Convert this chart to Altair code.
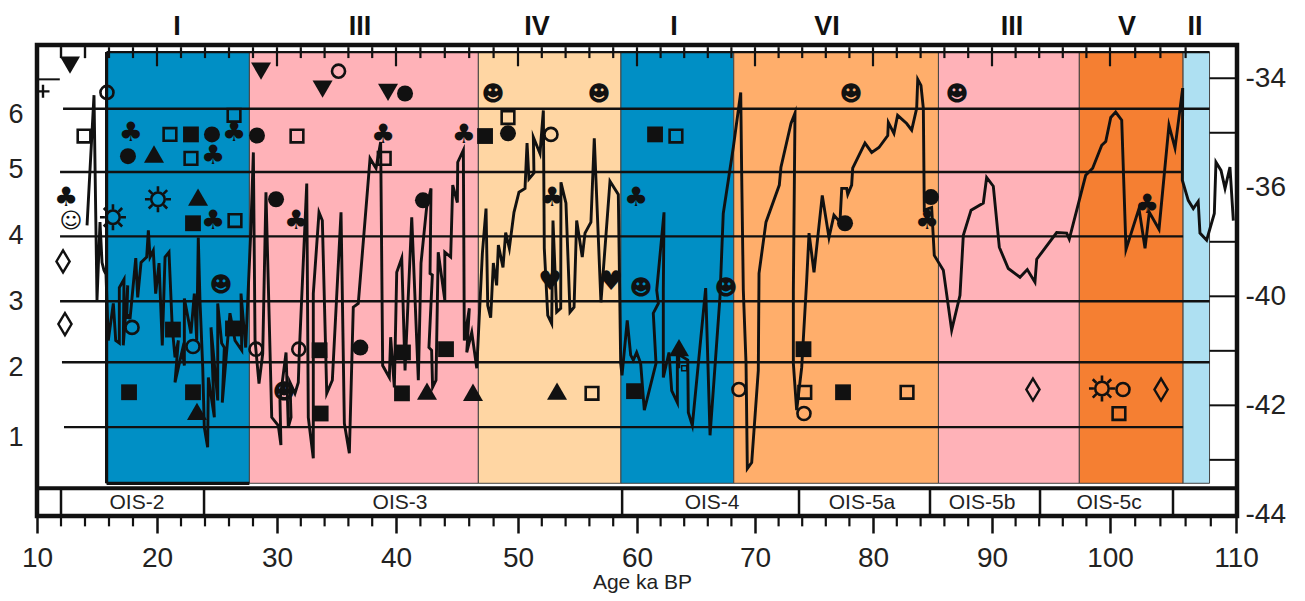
import altair as alt
import pandas as pd

# ---- isotope curve, (age ka BP, per mil on the evenly ticked right axis), split by stretch
curve_early = [(14.17,-36.70),(14.75,-34.31),(15.0,-38.07),(15.25,-36.64),(15.42,-37.38),(15.58,-37.52),(15.75,-37.60),
 (15.94,-38.81),(16.36,-38.13),(16.56,-38.81),(16.86,-38.86),(16.86,-37.84),(17.25,-37.69),(17.19,-38.90),(17.56,-37.80),
 (17.48,-38.39),(17.69,-38.35),(17.75,-38.42),(18.23,-37.30),(18.39,-38.02),(18.67,-37.38),(19.14,-37.28),(19.28,-36.79),
 (19.42,-37.28),(19.69,-37.16),(19.89,-37.95),(20.17,-37.39),(20.44,-38.90),(20.67,-37.28),(21.0,-37.19),(21.27,-38.57),
 (21.5,-39.12),(21.78,-38.81),(21.5,-39.58),(22.11,-38.99),(22.28,-39.27),(22.28,-38.04),(22.83,-38.68),(23.11,-37.95),
 (23.31,-38.81),(23.44,-36.92),(23.58,-38.07),(23.81,-39.30),(23.94,-40.40),(24.22,-40.77),(24.28,-39.49),(24.78,-40.22),
 (24.5,-38.57),(25.06,-39.91),(25.06,-38.13),(25.39,-38.86),(25.61,-38.94),(25.44,-39.95),(26.08,-38.31),(26.5,-38.81),
 (27.06,-38.99),(27.0,-37.95),(27.39,-38.94),(27.81,-36.84)]
curve_ois3 = [(28.03,-35.36),(28.17,-38.81),(28.5,-39.60),(28.81,-39.05),(29.08,-36.09),(29.56,-40.22),(30.11,-40.37),
 (30.33,-40.73),(30.25,-39.91),(30.76,-39.03),(30.95,-40.40),(31.18,-40.22),(31.09,-39.58),(31.51,-39.78),(31.79,-39.58),
 (31.87,-39.05),(32.5,-35.93),(32.63,-40.22),(33.05,-40.97),(33.05,-37.95),(33.53,-36.46),(33.81,-36.61),(34.18,-39.78),
 (34.65,-39.54),(35.38,-36.46),(35.66,-40.33),(36.08,-40.88),(36.41,-38.20),(36.83,-38.13),(37.82,-35.47),(38.32,-35.65),
 (38.71,-35.17),(38.88,-39.27),(39.44,-39.49),(39.55,-38.75),(39.86,-39.67),(40.06,-37.56),(40.47,-37.30),(40.74,-39.36),
 (41.29,-36.55),(41.83,-39.54),(42.05,-37.39),(42.51,-36.37),(42.87,-36.02),(42.79,-37.58),(42.98,-37.61),(42.7,-38.94),
 (42.92,-38.99),(43.0,-39.67),(43.28,-39.54),(43.46,-37.19),(44.0,-38.07),(44.0,-37.19),(44.48,-37.28),(44.65,-35.96),
 (45.03,-36.28),(45.06,-35.54),(45.52,-35.32),(45.6,-38.81),(46.01,-38.22),(45.8,-39.03),(46.21,-38.66),(46.62,-39.32)]
curve_mid = [(47.08,-37.21),(47.38,-36.39),(47.52,-38.17),(47.76,-38.39),(47.98,-37.39),(48.25,-37.80),(48.39,-37.06),
 (48.77,-37.47),(48.99,-36.83),(49.29,-37.12),(49.67,-36.46),(50.08,-36.09),(50.59,-36.02),(50.76,-35.19),(50.92,-35.85),
 (51.34,-35.74),(51.29,-35.08),(51.85,-35.38),(52.13,-34.59),(52.21,-37.12),(52.5,-38.35),(52.83,-38.50),(52.94,-36.61),
 (53.25,-38.29),(53.59,-38.22),(53.61,-35.91),(54.03,-36.29),(54.37,-38.29),(54.71,-38.20),(54.93,-36.61),(55.4,-37.28),
 (55.63,-36.84),(56.13,-36.64),(56.41,-35.10),(56.97,-38.11),(57.73,-35.89),(58.43,-36.13),(58.63,-39.23),(58.74,-39.45),
 (59.18,-38.44),(59.47,-39.08),(59.69,-39.17),(59.97,-39.03),(60.31,-39.23),(60.62,-40.09),(61.61,-39.23),(61.38,-38.31),
 (61.81,-38.13),(61.67,-37.89),(62.29,-36.46),(62.23,-37.89),(62.23,-39.49),(62.71,-39.03),(62.94,-39.73),(63.42,-39.95),
 (63.42,-39.05),(64.3,-39.17),(64.35,-40.13),(64.69,-40.37),(65.82,-37.85),(66.19,-40.55),(67.03,-38.02),(67.31,-36.48),
 (68.16,-35.27),(68.79,-34.26)]
curve_ois5 = [(68.87,-35.74),(69.01,-37.89),(69.24,-39.23),(69.35,-41.16),(69.72,-41.05),(70.28,-39.36),(70.34,-37.58),
 (70.93,-36.64),(72.06,-35.96),(72.2,-35.63),(73.05,-34.83),(73.39,-34.64),(73.25,-37.89),(73.25,-39.23),(73.53,-40.09),
 (73.96,-39.30),(74.38,-37.71),(74.58,-36.84),(75.0,-37.56),(75.7,-36.15),(76.27,-36.92),(76.69,-36.51),(77.2,-36.64),
 (77.35,-36.02),(77.77,-36.02),(77.86,-36.13),(78.19,-35.96),(78.28,-35.65),(79.32,-35.19),(79.89,-35.36),(80.5,-35.27),
 (81.24,-35.05),(81.29,-34.81),(81.76,-35.01),(82.07,-34.68),(82.83,-34.83),(83.25,-34.95),(83.67,-34.55),(83.76,-34.02),
 (84.03,-34.13),(84.23,-34.55),(84.31,-36.42),(84.93,-36.37),(85.15,-37.25),(85.91,-37.52),(86.61,-38.62),(87.31,-37.98),
 (87.59,-36.88),(88.24,-36.42),(89.27,-36.29),(89.55,-35.82),(90.11,-35.98),(90.62,-37.10),(91.38,-37.49),(92.37,-37.65),
 (92.99,-37.51),(93.64,-37.74),(93.79,-37.32),(95.48,-36.83),(96.33,-36.84),(96.55,-36.95),(97.94,-35.78),(98.53,-35.65),
 (99.3,-35.23),(99.64,-35.16),(100.06,-34.72),(100.45,-34.62),(100.93,-34.77),(101.27,-37.14),(102.3,-36.39),(102.78,-37.12),
 (103.12,-36.46),(103.89,-36.77),(104.68,-34.86),(105.16,-35.28),(105.77,-34.18),(105.74,-35.87),(106.21,-36.24),(106.61,-36.39),
 (107.0,-36.26),(107.14,-36.84),(107.67,-36.97),(108.28,-36.48),(108.41,-35.54),(108.81,-35.69),(109.13,-36.02),(109.52,-35.63),
 (109.79,-36.61)]

# ---- stadial bands
band_start = [15.8, 27.7, 46.75, 58.65, 68.2, 85.5, 97.4, 105.8]
band_end = [27.7, 46.75, 58.65, 68.2, 85.5, 97.4, 105.8, 107.9]
band_fill = ["#008FC5", "#FFB2B8", "#FFD6A3", "#008FC5", "#FFAE6B", "#FFB2B8", "#F57F32", "#AEE0F2"]
band_names = ["I", "III", "IV", "I", "VI", "III", "V", "II"]
band_name_age = [21.67, 36.97, 51.6, 63.14, 76.1, 91.7, 101.35, 106.75]

# ---- horizontal level lines
level_val = [-34.56, -35.72, -36.90, -38.09, -39.21, -40.40]
level_from = [12.17, 11.92, 11.92, 11.92, 12.08, 12.25]
level_to = [107.9, 105.8, 105.8, 107.9, 107.9, 105.8]
level_label = ["6", "5", "4", "3", "2", "1"]
level_label_val = [-34.68, -35.69, -36.90, -38.11, -39.32, -40.59]

# ---- OIS strip
ois_names = ["OIS-2", "OIS-3", "OIS-4", "OIS-5a", "OIS-5b", "OIS-5c"]
ois_age = [18.33, 40.33, 66.36, 79.07, 89.17, 99.92]
ois_div = [12.0, 23.92, 58.75, 73.73, 84.79, 94.07, 105.0]

# ---- symbols
sq_filled = [(22.83,-35.03),(23.0,-36.66),(17.67,-39.76),(23.0,-39.76),(21.33,-38.61),(26.33,-38.59),(33.58,-38.99),(33.67,-40.15),
 (40.57,-39.03),(44.1,-38.97),(40.49,-39.78),(47.3,-35.06),(61.53,-35.03),(59.75,-39.74),(74.11,-38.97),(77.46,-39.76)]
sq_open = [(13.92,-35.06),(21.08,-35.03),(26.42,-34.68),(31.68,-35.06),(22.83,-35.47),(26.5,-36.61),(39.01,-35.47),(49.18,-34.72),
 (56.22,-39.78),(63.3,-35.06),(74.22,-39.76),(82.86,-39.76),(100.71,-40.15)]
ci_filled = [(24.58,-35.03),(28.33,-35.05),(17.58,-35.43),(29.92,-36.22),(40.74,-34.28),(42.21,-36.24),(49.18,-35.01),(37.0,-38.94),
 (77.63,-36.66),(84.87,-36.18)]
ci_open = [(15.83,-34.26),(35.17,-33.87),(52.77,-35.03),(17.92,-38.57),(23.0,-38.92),(28.25,-38.97),(31.83,-38.97),(68.64,-39.71),
 (74.15,-40.15),(101.03,-39.71)]
tri_up = [(19.75,-35.39),(23.42,-36.18),(23.33,-40.11),(42.54,-39.74),(46.31,-39.76),(53.28,-39.74),(63.56,-38.94)]
tri_down = [(12.75,-33.76),(28.67,-33.87),(33.83,-34.20),(39.33,-34.26)]
clubs = [(17.83,-35.01),(26.42,-35.01),(24.67,-35.43),(12.42,-36.20),(24.67,-36.61),(31.6,-36.61),(38.92,-35.05),(45.57,-35.05),
 (52.86,-36.20),(59.92,-36.20),(84.54,-36.62),(102.94,-36.33)]
smile_open = [(12.83,-36.62)]
smile_filled = [(25.33,-37.80),(47.95,-34.28),(56.81,-34.28),(78.14,-34.29),(87.06,-34.28),(60.34,-37.84),(67.54,-37.84),(30.59,-39.76)]
suns = [(20.08,-36.22),(16.33,-36.55),(99.32,-39.69)]
diamonds = [(12.17,-37.36),(12.33,-38.51),(93.47,-39.71),(104.05,-39.71)]
hearts = [(52.69,-37.74),(57.82,-37.74)]
small_open = [(64.0,-39.32)]
plus_mark = [(10.5,-34.24)]

# ---- axes
tens = [10, 20, 30, 40, 50, 60, 70, 80, 90, 100, 110]
tens_pos = [0, 120, 240, 359, 481, 600, 718, 836, 955, 1073, 1199]
even_top = [a for a in range(12, 107, 2) if a % 10 != 0]
long_top = [20, 30, 40, 50, 60, 70, 80, 90, 100]
even_bottom = [a for a in range(12, 109, 2) if a % 10 != 0]
right_ticks = [-34, -35, -37, -38, -39, -40, -41]
right_labelled = [-34, -36, -38, -40, -42]

Y_DOM = [-42.03, -33.39]
xs = alt.Scale(domain=tens, range=tens_pos, nice=False, zero=False)
ys = alt.Scale(domain=Y_DOM, nice=False, zero=False)
X = alt.X("a:Q", scale=xs, axis=None)
Y = alt.Y("v:Q", scale=ys, axis=None)
INK = "#111111"
SANS = "Liberation Sans"
DEJA = "DejaVu Sans"
SUN = ("M0.52,0A0.52,0.52 0 1,1 -0.52,0A0.52,0.52 0 1,1 0.52,0Z"
       "M0.62,0L1,0M-0.62,0L-1,0M0,0.62L0,1M0,-0.62L0,-1"
       "M0.44,0.44L0.71,0.71M-0.44,0.44L-0.71,0.71M0.44,-0.44L0.71,-0.71M-0.44,-0.44L-0.71,-0.71")


def frame(points):
    return pd.DataFrame(points, columns=["a", "v"])


def sym(points, **kw):
    return alt.Chart(frame(points)).mark_point(**kw).encode(x=X, y=Y)


def glyph(points, char, size, dy=0, color=INK):
    df = frame(points)
    df["t"] = char
    return alt.Chart(df).mark_text(font=DEJA, fontSize=size, color=color, dy=dy, baseline="middle").encode(x=X, y=Y, text="t:N")


def vrules(ages, v1, v2, width, color=INK):
    df = pd.DataFrame({"a": ages, "v": v1, "v2": v2})
    return alt.Chart(df).mark_rule(color=color, strokeWidth=width).encode(x=X, y=Y, y2="v2:Q")


def hrules(vals, a1, a2, width, color=INK):
    df = pd.DataFrame({"a": a1, "a2": a2, "v": vals})
    return alt.Chart(df).mark_rule(color=color, strokeWidth=width).encode(x=X, x2="a2:Q", y=Y)


TOP, BOT = -33.52, -41.43
bands = pd.DataFrame({"a": band_start, "a2": band_end, "fill": band_fill, "v": TOP, "v2": BOT})
band_layer = alt.Chart(bands).mark_rect(stroke="#444444", strokeWidth=1).encode(
    x=X, x2="a2:Q", y=Y, y2="v2:Q", fill=alt.Fill("fill:N", scale=None))

curve = pd.DataFrame(curve_early + curve_ois3 + curve_mid + curve_ois5, columns=["a", "v"])
curve["i"] = range(len(curve))
curve_layer = alt.Chart(curve).mark_line(color=INK, strokeWidth=2.9, strokeJoin="miter", strokeMiterLimit=6).encode(
    x=X, y=Y, order="i:Q")

names = pd.DataFrame({"a": band_name_age, "t": band_names, "v": -33.06})
name_layer = alt.Chart(names).mark_text(font=SANS, fontSize=27, fontWeight="bold", color=INK, baseline="middle").encode(x=X, y=Y, text="t:N")

ois = pd.DataFrame({"a": ois_age, "t": ois_names, "v": -41.80})
ois_layer = alt.Chart(ois).mark_text(font=SANS, fontSize=21, color="#222222", baseline="middle").encode(x=X, y=Y, text="t:N")

left = pd.DataFrame({"t": level_label, "v": level_label_val})
left_layer = alt.Chart(left).mark_text(font=SANS, fontSize=27, color="#222222", baseline="middle", align="center").encode(
    x=alt.value(-21), y=Y, text="t:N")

axes_layer = alt.Chart(pd.DataFrame({"a": tens, "v": [-42.03] * len(tens)})).mark_point(opacity=0).encode(
    x=alt.X("a:Q", scale=xs, axis=alt.Axis(
        orient="bottom", values=tens, grid=False, domain=False, tickSize=17, tickWidth=2.5, tickColor=INK,
        labelFont=SANS, labelFontSize=28, labelColor="#222222", labelPadding=11, labelFlush=False, format="d",
        title="Age ka BP", titleFont=SANS, titleFontSize=21, titleFontWeight="normal", titleColor="#222222",
        titleX=605, titleY=72, titleAnchor="middle", titleBaseline="alphabetic")),
    y=alt.Y("v:Q", scale=ys, axis=alt.Axis(
        orient="right", values=right_labelled, grid=False, domain=False, ticks=False,
        labelFont=SANS, labelFontSize=28, labelColor="#222222", labelPadding=8, title=None,
        labelExpr="datum.value < -37 ? '-' + abs(datum.value - 2) : '-' + abs(datum.value)")),
)

layers = [
    band_layer,
    vrules([15.8], TOP, BOT, 3.2),
    hrules([BOT], [15.8], [27.7], 3.2),
    hrules([TOP], [15.8], [107.9], 2.2),
    hrules(level_val, level_from, level_to, 2.4),
    curve_layer,
    vrules(even_top + [12, 14], -33.43, -33.63, 2.2),
    vrules(long_top, -33.43, -33.78, 2.2),
    vrules(even_bottom, -42.03, -42.22, 2.2),
    hrules(right_ticks, [107.9] * len(right_ticks), [110] * len(right_ticks), 2),
    hrules([-34.02], [10.0], [11.9], 2),
    hrules([-41.52], [10.0], [110.0], 4),
    vrules(ois_div, -41.52, -42.03, 2.5),
    vrules([63.56], -38.94, -39.32, 2.5),
    sym(sq_filled, shape="square", size=250, filled=True, fill=INK, stroke=INK, strokeWidth=0, opacity=1),
    sym(sq_open, shape="square", size=160, filled=False, stroke=INK, strokeWidth=2.6, opacity=1),
    sym(small_open, shape="square", size=25, filled=False, stroke=INK, strokeWidth=1.5, opacity=1),
    sym(ci_filled, shape="circle", size=256, filled=True, fill=INK, strokeWidth=0, opacity=1),
    sym(ci_open, shape="circle", size=170, filled=False, stroke=INK, strokeWidth=2.6, opacity=1),
    sym(tri_up, shape="triangle-up", size=400, filled=True, fill=INK, strokeWidth=0, opacity=1),
    sym(tri_down, shape="triangle-down", size=400, filled=True, fill=INK, strokeWidth=0, opacity=1),
    sym(diamonds, shape="M0,-1L0.6,0L0,1L-0.6,0Z", size=484, filled=False, stroke=INK, strokeWidth=2.4, opacity=1),
    sym(plus_mark, shape="M-1,0L1,0M0,-1L0,1", size=169, filled=False, stroke=INK, strokeWidth=2.4, opacity=1),
    sym(suns, shape=SUN, size=676, filled=False, stroke=INK, strokeWidth=2.6, opacity=1),
    glyph(clubs, "\u2663", 27),
    glyph(hearts, "\u2665", 27),
    glyph(smile_filled, "\u263b", 22),
    glyph(smile_open, "\u263a", 22),
    name_layer,
    ois_layer,
    left_layer,
    axes_layer,
]

chart = (
    alt.layer(*layers)
    .resolve_axis(x="independent", y="independent")
    .properties(
        width=1200,
        height=471,
        autosize=alt.AutoSizeParams(type="none"),
        padding={"left": 29, "top": 37, "right": 60, "bottom": 82},
        background="white",
    )
    .configure_view(stroke=INK, strokeWidth=4.5)
)

chart.save("out.html", embed_options={"renderer": "svg", "actions": False})
